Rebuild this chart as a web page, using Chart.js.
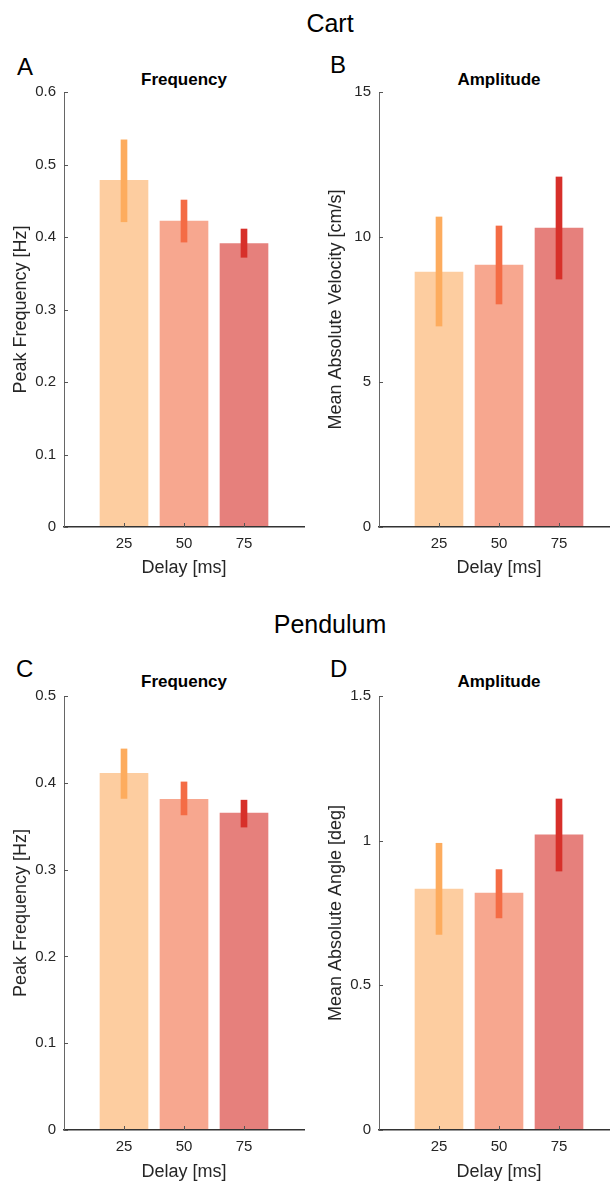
<!DOCTYPE html>
<html>
<head>
<meta charset="utf-8">
<script src="https://cdn.jsdelivr.net/npm/chart.js@4"></script>
<style>
html, body { margin: 0; padding: 0; width: 610px; height: 1182px; overflow: hidden; background: #fff; }
body { position: relative; font-family: "Liberation Sans", Arial, sans-serif; }
.txt { position: absolute; white-space: nowrap; line-height: 1; color: #000; }
.panel { position: absolute; width: 310px; height: 600px; }
</style>
</head>
<body>
<div class="txt" style="left:230px;width:200px;text-align:center;top:11px;font-size:25px">Cart</div>
<div class="txt" style="left:230px;width:200px;text-align:center;top:612px;font-size:25px">Pendulum</div>

<div class="txt" style="left:17px;top:55px;font-size:24px">A</div>
<div class="txt" style="left:330px;top:53px;font-size:24px">B</div>
<div class="txt" style="left:16px;top:657px;font-size:24px">C</div>
<div class="txt" style="left:330px;top:657px;font-size:24px">D</div>

<div class="txt" style="left:84px;width:200px;text-align:center;top:71px;font-size:17px;font-weight:bold">Frequency</div>
<div class="txt" style="left:399px;width:200px;text-align:center;top:71px;font-size:17px;font-weight:bold">Amplitude</div>
<div class="txt" style="left:84px;width:200px;text-align:center;top:673px;font-size:17px;font-weight:bold">Frequency</div>
<div class="txt" style="left:399px;width:200px;text-align:center;top:673px;font-size:17px;font-weight:bold">Amplitude</div>

<div class="panel" style="left:0;top:0"><canvas id="chartA" width="310" height="600"></canvas></div>
<div class="panel" style="left:315px;top:0"><canvas id="chartB" width="310" height="600"></canvas></div>
<div class="panel" style="left:0;top:604px"><canvas id="chartC" width="310" height="600"></canvas></div>
<div class="panel" style="left:315px;top:604px"><canvas id="chartD" width="310" height="600"></canvas></div>

<script>
// delays on the x axis
const delays = [25, 50, 75];

// Cart - peak frequency [Hz]
const cartFreq = [0.478, 0.422, 0.391];
const cartFreqLow = [0.421, 0.393, 0.372];
const cartFreqHigh = [0.534, 0.451, 0.411];

// Cart - mean absolute velocity [cm/s]
const cartAmp = [8.79, 9.03, 10.31];
const cartAmpLow = [6.93, 7.69, 8.55];
const cartAmpHigh = [10.69, 10.38, 12.07];

// Pendulum - peak frequency [Hz]
const pendFreq = [0.411, 0.381, 0.365];
const pendFreqLow = [0.382, 0.363, 0.349];
const pendFreqHigh = [0.439, 0.401, 0.380];

// Pendulum - mean absolute angle [deg]
const pendAmp = [0.833, 0.819, 1.020];
const pendAmpLow = [0.676, 0.733, 0.895];
const pendAmpHigh = [0.991, 0.900, 1.144];

const barColors = ['#fdcda0', '#f7a78f', '#e6807c'];
const errColors = ['#fdac5e', '#f46c45', '#d7302a'];
const axisColor = '#262626';

Chart.defaults.font.family = '"Liberation Sans", Arial, sans-serif';
Chart.defaults.color = axisColor;

// ticks pointing into the plot, like the original
const inwardTicks = {
    id: 'inwardTicks',
    afterDraw(chart) {
        const { ctx, chartArea, scales } = chart;
        ctx.save();
        ctx.lineWidth = 1;
        ctx.strokeStyle = '#555';
        scales.y.ticks.forEach((t) => {
            const py = Math.round(scales.y.getPixelForValue(t.value)) + 0.5;
            ctx.beginPath();
            ctx.moveTo(chartArea.left, py);
            ctx.lineTo(chartArea.left + 4, py);
            ctx.stroke();
        });
        scales.x.ticks.forEach((t) => {
            const px = Math.round(scales.x.getPixelForValue(t.value)) + 0.5;
            ctx.beginPath();
            ctx.moveTo(px, chartArea.bottom);
            ctx.lineTo(px, chartArea.bottom - 4);
            ctx.stroke();
        });
        ctx.restore();
    }
};

function makePanel(id, yTitle, yMax, yStep, means, lows, highs, areaH) {
    new Chart(document.getElementById(id), {
        type: 'bar',
        data: {
            datasets: [{
                data: delays.map((d, i) => ({ x: d, y: [lows[i], highs[i]] })),
                backgroundColor: errColors,
                barThickness: 6,
                grouped: false,
                order: 0
            }, {
                data: delays.map((d, i) => ({ x: d, y: means[i] })),
                backgroundColor: barColors,
                barThickness: 48,
                grouped: false,
                order: 1
            }]
        },
        options: {
            responsive: false,
            animation: false,
            devicePixelRatio: 1,
            layout: { padding: { left: 0, top: 92, right: 6, bottom: 0 } },
            plugins: { legend: { display: false }, tooltip: { enabled: false }, title: { display: false } },
            scales: {
                x: {
                    type: 'linear',
                    min: 0,
                    max: 100,
                    offset: false,
                    grid: { display: false, offset: false, drawTicks: false },
                    border: { display: true, color: '#333', width: 1.5, z: 1 },
                    afterBuildTicks: (s) => { s.ticks = delays.map((v) => ({ value: v })); },
                    afterFit: (s) => { s.height = 600 - 92 - areaH; },
                    ticks: { font: { size: 15 }, color: axisColor, padding: 8, maxRotation: 0 },
                    title: { display: true, text: 'Delay [ms]', font: { size: 18 }, color: axisColor, padding: { top: 0, bottom: 21 } }
                },
                y: {
                    min: 0,
                    max: yMax,
                    grid: { display: false, drawTicks: false },
                    border: { display: true, color: '#666', width: 1, z: 1 },
                    afterFit: (s) => { s.width = 64; },
                    ticks: {
                        stepSize: yStep,
                        font: { size: 15 },
                        color: axisColor,
                        padding: 8,
                        callback: (v) => String(Math.round(v * 100) / 100)
                    },
                    title: { display: true, text: yTitle, font: { size: 18 }, color: axisColor, padding: { top: 10, bottom: 0 } }
                }
            }
        },
        plugins: [inwardTicks]
    });
}

makePanel('chartA', 'Peak Frequency [Hz]', 0.6, 0.1, cartFreq, cartFreqLow, cartFreqHigh, 435);
makePanel('chartB', 'Mean Absolute Velocity [cm/s]', 15, 5, cartAmp, cartAmpLow, cartAmpHigh, 435);
makePanel('chartC', 'Peak Frequency [Hz]', 0.5, 0.1, pendFreq, pendFreqLow, pendFreqHigh, 434);
makePanel('chartD', 'Mean Absolute Angle [deg]', 1.5, 0.5, pendAmp, pendAmpLow, pendAmpHigh, 434);
</script>
</body>
</html>
